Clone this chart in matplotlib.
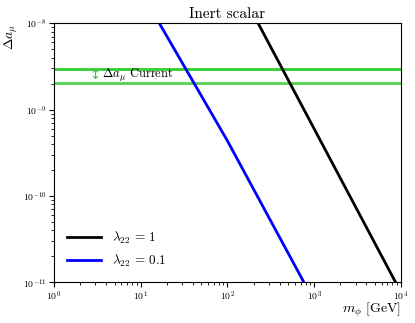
import matplotlib
matplotlib.use("Agg")
import matplotlib.pyplot as plt
import numpy as np

plt.rcParams['font.family'] = 'serif'
plt.rcParams['font.serif'] = ['cmr10']
plt.rcParams['mathtext.fontset'] = 'cm'
plt.rcParams['axes.formatter.use_mathtext'] = True

# lambda_22 = 1
m_l1 = [226, 8690]
da_l1 = [1e-8, 1e-11]
# lambda_22 = 0.1
m_l01 = [16.4, 100, 762]
da_l01 = [1e-8, 4.35e-10, 1e-11]
# current band
da_low = 2.03e-9
da_high = 2.99e-9

fig = plt.figure(figsize=(4.15, 3.23), dpi=100)
ax = fig.add_axes([0.130, 0.126, 0.836, 0.802])

ax.axhline(da_high, color='limegreen', lw=2)
ax.axhline(da_low, color='limegreen', lw=2, alpha=0.85)
ax.plot(m_l1, da_l1, 'k', lw=2, label=r'$\lambda_{22}\,=\,1$')
ax.plot(m_l01, da_l01, 'b', lw=2, label=r'$\lambda_{22}\,=\,0.1$')

ax.text(3.0, 2.47e-9, '\u2195', family='DejaVu Sans', color='limegreen',
        fontsize=9.5, ha='center', va='center')
ax.text(3.6, 2.47e-9, r'$\Delta a_\mu$ Current', fontsize=9, va='center')

ax.set_xscale('log')
ax.set_yscale('log')
ax.set_xlim(1, 1e4)
ax.set_ylim(1e-11, 1e-8)
ax.tick_params(labelsize=7, pad=1.5)
ax.set_title('Inert scalar', fontsize=11, pad=4)
ax.set_xlabel(r'$m_\phi$ [GeV]', fontsize=10, loc='right')
ax.xaxis.set_label_coords(1.0, -0.072)
ax.set_ylabel(r'$\Delta a_\mu$', fontsize=10, loc='top', labelpad=2)
ax.legend(loc='lower left', frameon=False, fontsize=9.5, handlelength=2.6,
          borderaxespad=0.6)

fig.savefig('out.png', dpi=100)
